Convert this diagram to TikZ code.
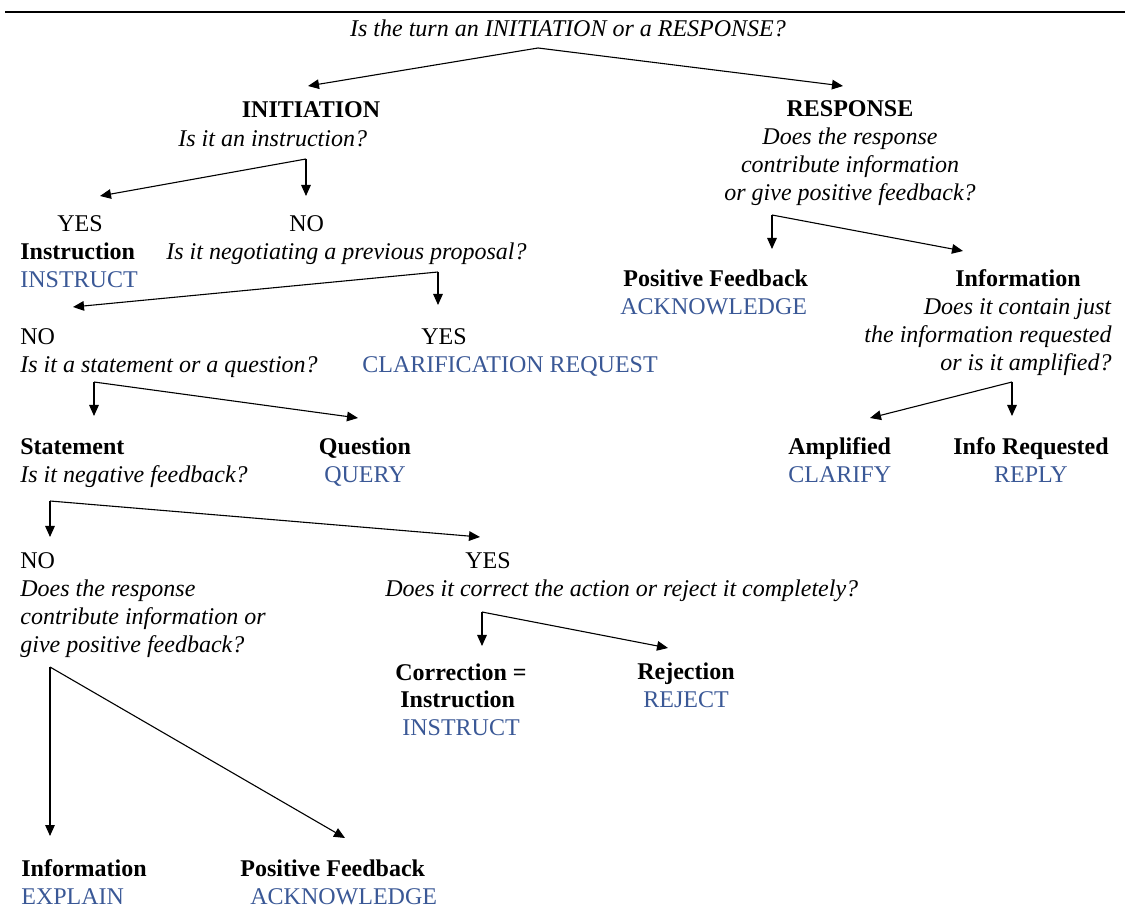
\documentclass[tikz,border=0pt]{standalone}
\usepackage{fontspec}
\setmainfont{Liberation Serif}
\usetikzlibrary{arrows.meta}
\definecolor{codeblue}{RGB}{58,88,150}
\begin{document}
\begin{tikzpicture}[x=0.5pt,y=-0.5pt,
  txt/.style={inner sep=0pt, font=\fontsize{12}{14}\selectfont},
  arr/.style={-{Triangle[length=5.5pt,width=4.8pt]}, line width=0.55pt},
]
\newcommand{\cd}[1]{\textcolor{codeblue}{#1}}
\useasboundingbox (0,0) rectangle (1125,908);
\coordinate (rl) at (5,12);
\coordinate (rr) at (1125,12);
\draw[line width=1.1pt] (rl) -- (rr);

% ---------- texts (multi-line nodes: base = last line) ----------
\node[txt, anchor=base] (q0) at (568,37) {\itshape Is the turn an INITIATION or a RESPONSE?};

\node[txt, anchor=base] (init) at (311,118) {\bfseries INITIATION};
\node[txt, anchor=base west] (initq) at (178,147) {\itshape Is it an instruction?};

\node[txt, anchor=base, align=center] (resp) at (850,201)
  {\textbf{RESPONSE}\\\textit{Does the response}\\\textit{contribute information}\\\textit{or give positive feedback?}};

\node[txt, anchor=base west] (yes1) at (57,232) {YES};
\node[txt, anchor=base west] (no1) at (289,232) {NO};
\node[txt, anchor=base west, align=left] (instr) at (20,288) {\textbf{Instruction}\\\cd{INSTRUCT}};
\node[txt, anchor=base west] (negq) at (166,260) {\itshape Is it negotiating a previous proposal?};

\node[txt, anchor=base west, align=left] (no2) at (20,373) {NO\\\textit{Is it a statement or a question?}};
\node[txt, anchor=base west] (yes2) at (421,345) {YES};
\node[txt, anchor=base west] (clar) at (362,373) {\cd{CLARIFICATION REQUEST}};

\node[txt, anchor=base west, align=left] (stmt) at (20,483) {\textbf{Statement}\\\textit{Is it negative feedback?}};
\node[txt, anchor=base, align=center] (quest) at (365,483) {\textbf{Question}\\\cd{QUERY}};

\node[txt, anchor=base west, align=left] (no3) at (20,653)
  {NO\\\textit{Does the response}\\\textit{contribute information or}\\\textit{give positive feedback?}};
\node[txt, anchor=base west] (yes3) at (465,569) {YES};
\node[txt, anchor=base west] (corrq) at (385,597) {\itshape Does it correct the action or reject it completely?};

\node[txt, anchor=base west, align=left] (corr) at (395,736)
  {\textbf{Correction =}\\\hspace{2.5pt}\textbf{Instruction}\\\hspace{3.5pt}\cd{INSTRUCT}};
\node[txt, anchor=base, align=center] (rej) at (686,708) {\textbf{Rejection}\\\cd{REJECT}};

\node[txt, anchor=base west, align=left] (info) at (21,904) {\textbf{Information}\\\cd{EXPLAIN}};
\node[txt, anchor=base west, align=left] (posf) at (240,904) {\textbf{Positive Feedback}\\\hspace{5pt}\cd{ACKNOWLEDGE}};

\node[txt, anchor=base west, align=left] (posf2) at (620,315) {\hspace{1.5pt}\textbf{Positive Feedback}\\\cd{ACKNOWLEDGE}};
\node[txt, anchor=base west] (info2) at (955,287) {\bfseries Information};
\node[txt, anchor=base east, align=right] (info2q) at (1112,371)
  {\textit{Does it contain just}\\\textit{the information requested}\\\textit{or is it amplified?}};

\node[txt, anchor=base west, align=left] (amp) at (788,483) {\textbf{Amplified}\\\cd{CLARIFY}};
\node[txt, anchor=base, align=center] (ireq) at (1031,483) {\textbf{Info Requested}\\\cd{REPLY}};

% ---------- fork points and arrow tips ----------
\coordinate (f0) at (538,48);  \coordinate (t0a) at (308,86);  \coordinate (t0b) at (843,86);
\coordinate (f1) at (306,159); \coordinate (t1a) at (100,196); \coordinate (t1b) at (306,196);
\coordinate (f2) at (438,272); \coordinate (t2a) at (73,307);  \coordinate (t2b) at (438,305);
\coordinate (f3) at (94,382);  \coordinate (t3a) at (94,416);  \coordinate (t3b) at (358,418);
\coordinate (f4) at (50,501);  \coordinate (t4a) at (50,537);  \coordinate (t4b) at (480,537);
\coordinate (f5) at (482,612); \coordinate (t5a) at (482,646); \coordinate (t5b) at (668,648);
\coordinate (f6) at (50,667);  \coordinate (t6a) at (50,836);  \coordinate (t6b) at (345,838);
\coordinate (f7) at (772,215); \coordinate (t7a) at (772,249); \coordinate (t7b) at (963,251);
\coordinate (f8) at (1012,382);\coordinate (t8a) at (870,418); \coordinate (t8b) at (1012,416);

\foreach \i in {0,...,8}{
  \draw[arr] (f\i) -- (t\i a);
  \draw[arr] (f\i) -- (t\i b);
}
\end{tikzpicture}
\end{document}
